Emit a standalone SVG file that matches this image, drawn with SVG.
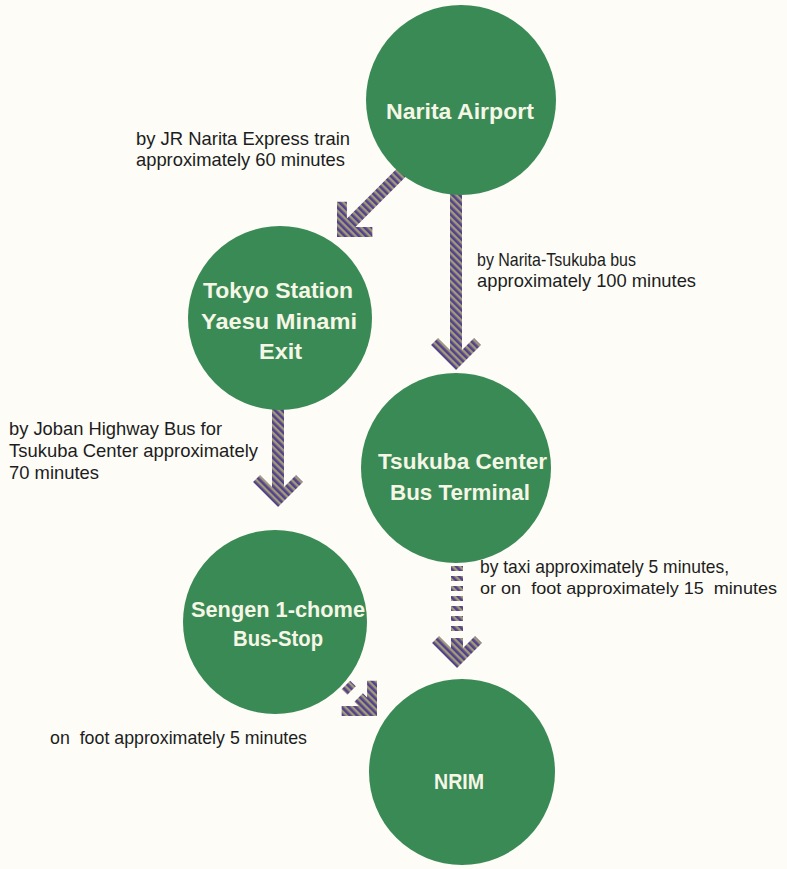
<svg xmlns="http://www.w3.org/2000/svg" width="787" height="869" viewBox="0 0 787 869">
  <style>
    .node { fill: #3a8a56; }
    .nt { font-family: "Liberation Sans", Arial, sans-serif; font-weight: bold; font-size: 22px; fill: #f6f6e6; text-anchor: start; }
    .lbl { font-family: "Liberation Sans", Arial, sans-serif; font-size: 19px; fill: #1c1c22; }
    .arr { fill: url(#stripes); }
  </style>
  <defs>
    <pattern id="stripes" patternUnits="userSpaceOnUse" width="5" height="5" patternTransform="rotate(-45)">
      <rect x="0" y="0" width="5" height="5" fill="#a39a7a"/>
      <rect x="0" y="0" width="2.6" height="5" fill="#51428c"/>
    </pattern>
    <pattern id="stripesA" patternUnits="userSpaceOnUse" width="5" height="5" patternTransform="rotate(-90)">
      <rect x="0" y="0" width="5" height="5" fill="#a39a7a"/>
      <rect x="0" y="0" width="2.6" height="5" fill="#51428c"/>
    </pattern>
    <pattern id="stripesB" patternUnits="userSpaceOnUse" width="5" height="5">
      <rect x="0" y="0" width="5" height="5" fill="#a39a7a"/>
      <rect x="0" y="0" width="2.6" height="5" fill="#51428c"/>
    </pattern>
  </defs>
  <rect x="0" y="0" width="787" height="869" fill="#fdfcf6"/>

  <g id="connectors">
    <!-- Narita -> Tokyo -->
    <path fill="url(#stripesA)" transform="translate(337,237) rotate(45)" d="M6,-95 L6,-20 L18,-32 L25,-25 L0,0 L-25,-25 L-18,-32 L-6,-20 L-6,-95 Z"/>
    <!-- Narita -> Tsukuba -->
    <path class="arr" transform="translate(456,370)" d="M6,-180 L6,-20 L18,-32 L25,-25 L0,0 L-25,-25 L-18,-32 L-6,-20 L-6,-180 Z"/>
    <!-- Tokyo -> Sengen -->
    <path class="arr" transform="translate(278,507)" d="M6,-105 L6,-20 L18,-32 L25,-25 L0,0 L-25,-25 L-18,-32 L-6,-20 L-6,-105 Z"/>
    <!-- Tsukuba -> NRIM (dashed) -->
    <g class="arr" transform="translate(457,668)">
      <rect x="-6" y="-102" width="12" height="5"/>
      <rect x="-6" y="-92" width="12" height="5"/>
      <rect x="-6" y="-82" width="12" height="5"/>
      <rect x="-6" y="-72" width="12" height="5"/>
      <rect x="-6" y="-62" width="12" height="5"/>
      <rect x="-6" y="-52" width="12" height="5"/>
      <rect x="-6" y="-42" width="12" height="5"/>
      <path d="M6,-30 L6,-20 L18,-32 L25,-25 L0,0 L-25,-25 L-18,-32 L-6,-20 L-6,-30 Z"/>
    </g>
    <!-- Sengen -> NRIM (dashed) -->
    <g fill="url(#stripesB)" transform="translate(377,716) rotate(-45)">
      <rect x="-6" y="-44" width="12" height="8"/>
      <path d="M6,-26 L6,-20 L18,-32 L25,-25 L0,0 L-25,-25 L-18,-32 L-6,-20 L-6,-26 Z"/>
    </g>
  </g>

  <g id="labels">
    <text class="lbl" x="136" y="145" textLength="214" lengthAdjust="spacingAndGlyphs">by JR Narita Express train</text>
    <text class="lbl" x="136" y="166" textLength="209" lengthAdjust="spacingAndGlyphs">approximately 60 minutes</text>
    <text class="lbl" x="477" y="266" textLength="159" lengthAdjust="spacingAndGlyphs">by Narita-Tsukuba bus</text>
    <text class="lbl" x="477" y="287" textLength="219" lengthAdjust="spacingAndGlyphs">approximately 100 minutes</text>
    <text class="lbl" x="9" y="435" textLength="213" lengthAdjust="spacingAndGlyphs">by Joban Highway Bus for</text>
    <text class="lbl" x="9" y="457" textLength="249" lengthAdjust="spacingAndGlyphs">Tsukuba Center approximately</text>
    <text class="lbl" x="9" y="479" textLength="90" lengthAdjust="spacingAndGlyphs">70 minutes</text>
    <text class="lbl" x="480" y="573" textLength="249" lengthAdjust="spacingAndGlyphs">by taxi approximately 5 minutes,</text>
    <text class="lbl" x="480" y="594" style="font-size:17px" textLength="297" lengthAdjust="spacingAndGlyphs" xml:space="preserve">or on  foot approximately 15  minutes</text>
    <text class="lbl" x="50" y="744" textLength="257" lengthAdjust="spacingAndGlyphs" xml:space="preserve">on  foot approximately 5 minutes</text>
  </g>

  <g id="narita">
    <circle class="node" cx="461" cy="100" r="95"/>
    <text class="nt" x="386" y="119" textLength="148" lengthAdjust="spacingAndGlyphs">Narita Airport</text>
  </g>
  <g id="tokyo">
    <circle class="node" cx="280" cy="318" r="92"/>
    <text class="nt" x="203" y="298" textLength="150" lengthAdjust="spacingAndGlyphs">Tokyo Station</text>
    <text class="nt" x="201" y="329" textLength="156" lengthAdjust="spacingAndGlyphs">Yaesu Minami</text>
    <text class="nt" x="259" y="359" textLength="43" lengthAdjust="spacingAndGlyphs">Exit</text>
  </g>
  <g id="tsukuba">
    <circle class="node" cx="456" cy="468" r="95"/>
    <text class="nt" x="378" y="469" textLength="169" lengthAdjust="spacingAndGlyphs">Tsukuba Center</text>
    <text class="nt" x="390" y="500" textLength="140" lengthAdjust="spacingAndGlyphs">Bus Terminal</text>
  </g>
  <g id="sengen">
    <circle class="node" cx="275" cy="622" r="92"/>
    <text class="nt" x="191" y="617" textLength="174" lengthAdjust="spacingAndGlyphs">Sengen 1-chome</text>
    <text class="nt" x="233" y="646" textLength="90" lengthAdjust="spacingAndGlyphs">Bus-Stop</text>
  </g>
  <g id="nrim">
    <circle class="node" cx="462" cy="772" r="93"/>
    <text class="nt" x="434" y="789" textLength="50" lengthAdjust="spacingAndGlyphs">NRIM</text>
  </g>
</svg>
